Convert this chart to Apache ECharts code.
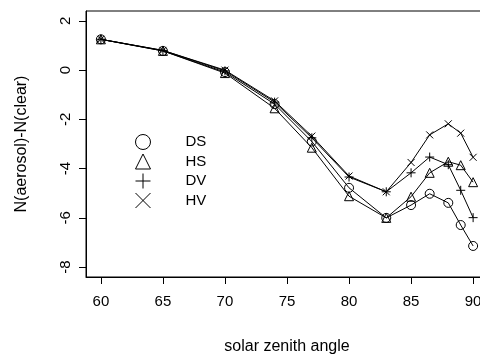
<!DOCTYPE html>
<html>
<head>
<meta charset="utf-8">
<script src="https://cdn.jsdelivr.net/npm/echarts@6/dist/echarts.min.js"></script>
<style>
  html, body { margin: 0; padding: 0; background: #fff; }
  #chart { width: 480px; height: 354px; }
</style>
</head>
<body>
<div id="chart"></div>
<script>
// Solar zenith angles (degrees)
const angles = [60, 65, 70, 74, 77, 80, 83, 85, 86.5, 88, 89, 90];

// N(aerosol) - N(clear) for each aerosol case
const DS = [1.25, 0.78, -0.08, -1.38, -2.90, -4.78, -6.00, -5.48, -5.02, -5.39, -6.29, -7.14];
const HS = [1.25, 0.78, -0.12, -1.55, -3.15, -5.12, -6.00, -5.14, -4.17, -3.72, -3.86, -4.55];
const DV = [1.25, 0.80, -0.03, -1.30, -2.75, -4.34, -4.94, -4.17, -3.53, -3.84, -4.88, -5.99];
const HV = [1.25, 0.80, 0.00, -1.25, -2.68, -4.30, -4.94, -3.75, -2.63, -2.18, -2.56, -3.54];

// Tick labels
const xTicks = [60, 65, 70, 75, 80, 85, 90];
const yTicks = [-8, -6, -4, -2, 0, 2];

const FONT = '"Liberation Sans", Arial, sans-serif';
const PLUS = 'path://M5,0L5,10M0,5L10,5';
const CROSS = 'path://M0,0L10,10M10,0L0,10';

const seriesDefs = [
  { name: 'DS', values: DS, symbol: 'circle', size: 9 },
  { name: 'HS', values: HS, symbol: 'triangle', size: 9 },
  { name: 'DV', values: DV, symbol: PLUS, size: 9 },
  { name: 'HV', values: HV, symbol: CROSS, size: 7 }
];

const hollow = { color: 'rgba(0,0,0,0)', borderColor: '#000', borderWidth: 1 };

const chart = echarts.init(document.getElementById('chart'), null, { renderer: 'canvas' });

chart.setOption({
  animation: false,
  backgroundColor: '#fff',
  grid: {
    left: 86, top: 11, right: -8, bottom: 77,
    outerBoundsMode: 'none',
    show: true, borderColor: '#000', borderWidth: 1, backgroundColor: 'transparent'
  },
  legend: {
    orient: 'vertical',
    left: 130, top: 129,
    itemWidth: 15, itemHeight: 15, itemGap: 3.5,
    itemStyle: hollow,
    textStyle: { fontFamily: FONT, fontSize: 15, color: '#000', padding: [0, 0, 0, 30] },
    data: seriesDefs.map(s => ({ name: s.name, icon: s.symbol }))
  },
  xAxis: {
    type: 'value', min: 58.8, max: 91.2,
    name: 'solar zenith angle', nameLocation: 'middle', nameGap: 62,
    nameTextStyle: { fontFamily: FONT, fontSize: 16, color: '#000' },
    axisLine: { show: true, onZero: false, lineStyle: { color: '#000', width: 1 } },
    axisTick: { show: true, length: 7, customValues: xTicks, lineStyle: { color: '#000' } },
    axisLabel: { customValues: xTicks, margin: 17, fontFamily: FONT, fontSize: 15, color: '#000' },
    splitLine: { show: false }
  },
  yAxis: {
    type: 'value', min: -8.4, max: 2.4,
    name: 'N(aerosol)-N(clear)', nameLocation: 'middle', nameGap: 56,
    nameTextStyle: { fontFamily: FONT, fontSize: 16, color: '#000' },
    axisLine: { show: true, onZero: false, lineStyle: { color: '#000', width: 1 } },
    axisTick: { show: true, length: 7, customValues: yTicks, lineStyle: { color: '#000' } },
    axisLabel: { customValues: yTicks, rotate: 90, margin: 13, fontFamily: FONT, fontSize: 15, color: '#000' },
    splitLine: { show: false }
  },
  series: seriesDefs.map(s => ({
    name: s.name,
    type: 'line',
    data: angles.map((a, i) => [a, s.values[i]]),
    symbol: s.symbol,
    symbolSize: s.size,
    showAllSymbol: true,
    itemStyle: hollow,
    lineStyle: { color: '#000', width: 1 },
    emphasis: { disabled: true }
  }))
});
</script>
</body>
</html>
